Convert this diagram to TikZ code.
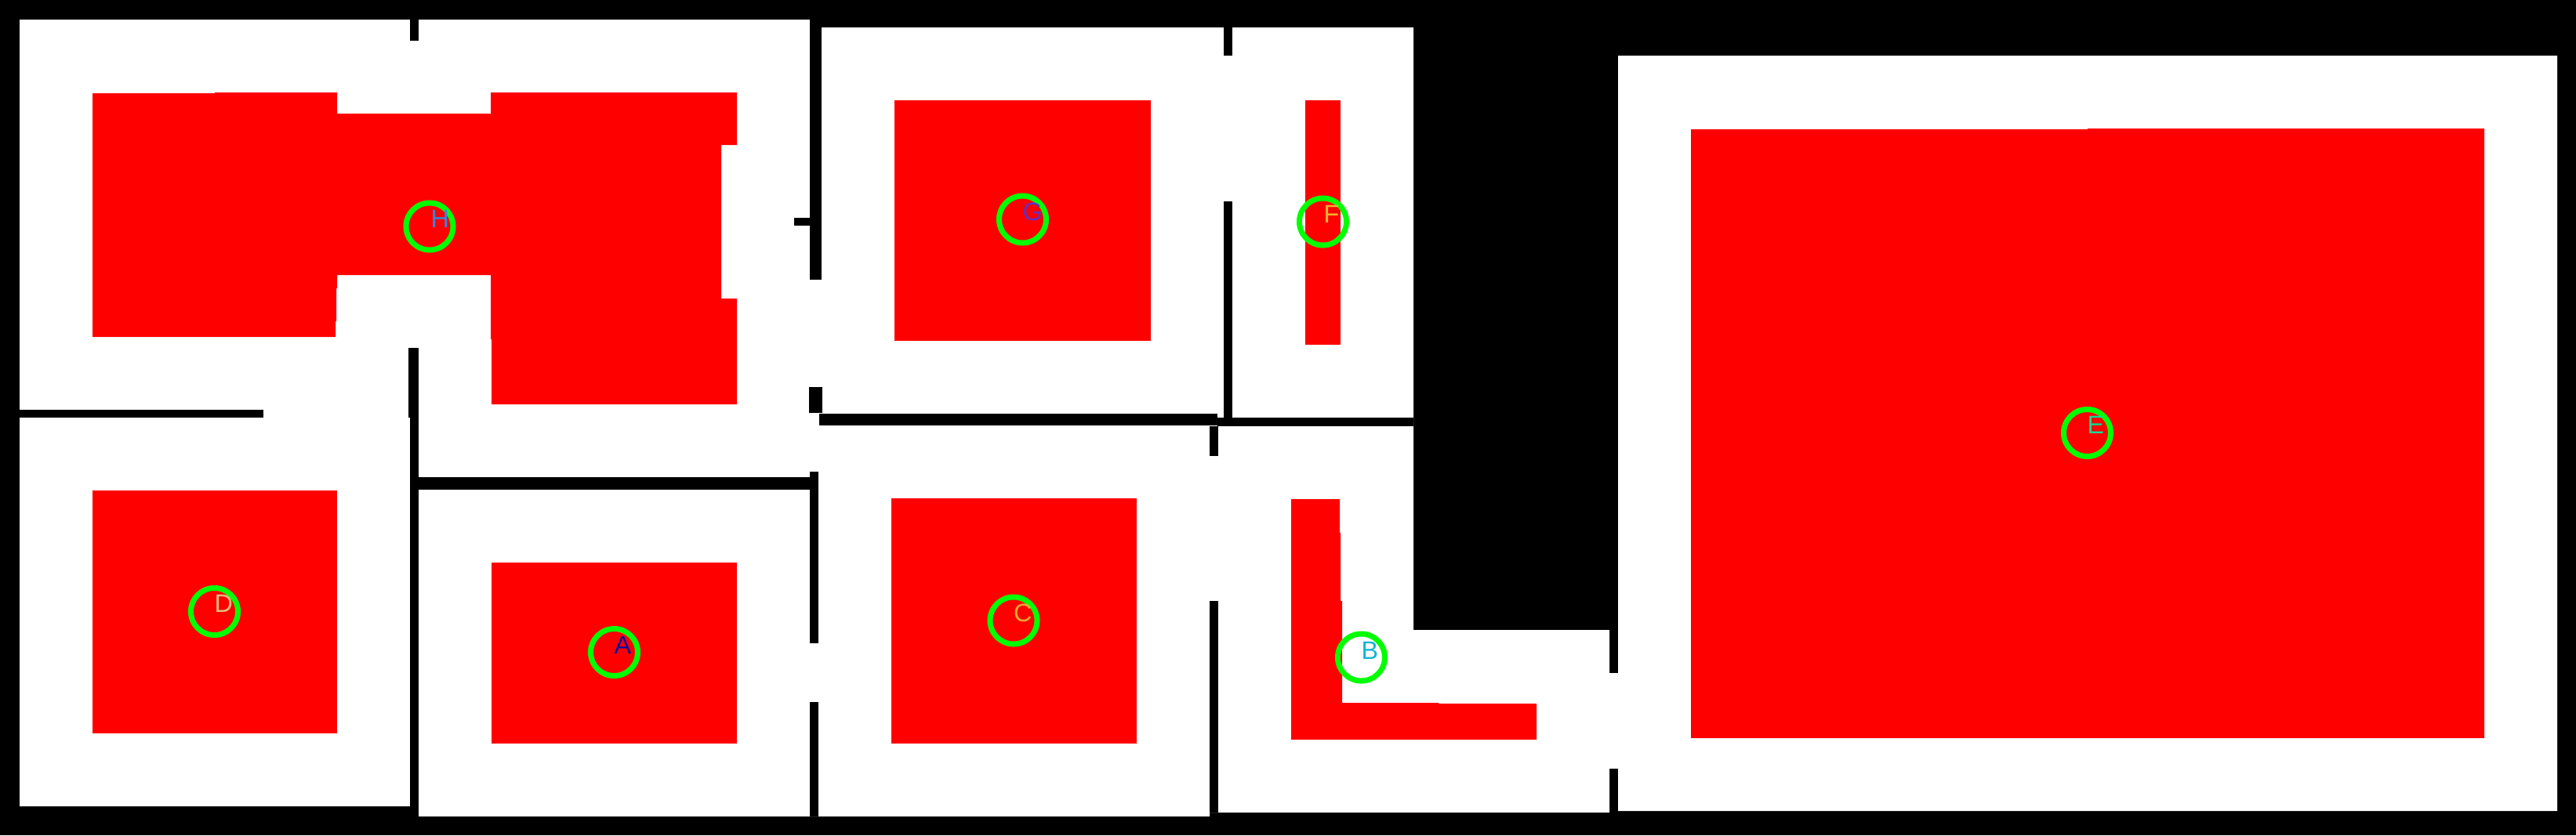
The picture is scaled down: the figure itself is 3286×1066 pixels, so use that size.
\documentclass[tikz,border=0pt]{standalone}
\usepackage{fontspec}
\setmainfont{Liberation Sans}
\usetikzlibrary{calc}

\begin{document}
\begin{tikzpicture}[
  x=0.01cm, y=-0.01cm,
  floor plan/.style={
    fill=white
  },
  wall/.style={
    fill=black
  },
  zone/.style={
    fill=red
  },
  ring/.style={
    circle,
    draw=ringgreen,
    line width=0.07cm,
    minimum size=0.6cm,
    inner sep=0pt,
    outer sep=0pt
  },
  room label/.style={
    anchor=base west,
    inner sep=0pt,
    outer sep=0pt,
    font=\fontsize{9.2pt}{10pt}\selectfont
  }
  ]
\definecolor{ringgreen}{RGB}{0,255,0}
% Background
\fill[black] (0,0) rectangle (3286,1066);
\useasboundingbox (0,0) rectangle (3286,1066);
% Floor
\fill[floor plan] (25,25) -- (1033,25) -- (1033,35) -- (1803,35) -- (1803,804) -- (2053,804)
  -- (2053,859) -- (2064,859) -- (2064,71) -- (3262,71) -- (3262,1035) -- (2064,1035)
  -- (2064,981) -- (2053,981) -- (2053,1037) -- (1543,1037) -- (1543,1042) -- (534,1042)
  -- (534,1029) -- (25,1029) -- cycle;
% Walls, west part
\fill[wall] (523,25) rectangle (534,52);
\fill[wall] (25,523) rectangle (336,533);
\fill[wall] (521,444) rectangle (534,533);
\fill[wall] (523,533) rectangle (534,1042);
\fill[wall] (534,609) rectangle (1033,625);
% Walls, middle
\fill[wall] (1033,25) rectangle (1048,357);
\fill[wall] (1013,278) rectangle (1033,288);
\fill[wall] (1032,494) rectangle (1049,527);
\fill[wall] (1033,602) rectangle (1044,821);
\fill[wall] (1033,896) rectangle (1044,1042);
\fill[wall] (1045,528) rectangle (1553,543);
% Walls, east part
\fill[wall] (1553,533) rectangle (1803,544);
\fill[wall] (1561,35) rectangle (1572,71);
\fill[wall] (1561,257) rectangle (1572,533);
\fill[wall] (1543,544) rectangle (1554,582);
\fill[wall] (1543,767) rectangle (1554,1037);
% Zones
\fill[zone] (118,119) -- (274,119) -- (274,118) -- (430,118) -- (430,145) -- (626,145) -- (626,118)
  -- (940,118) -- (940,185) -- (920,185) -- (920,381) -- (940,381) -- (940,516) -- (627,516)
  -- (627,433) -- (626,433) -- (626,351) -- (430,351) -- (430,368) -- (429,368) -- (429,410)
  -- (428,410) -- (428,430) -- (118,430) -- cycle;
\fill[zone] (118,626) rectangle (430,936);
\fill[zone] (627,718) rectangle (940,949);
\fill[zone] (1137,636) rectangle (1450,949);
\fill[zone] (1141,128) rectangle (1468,435);
\fill[zone] (1665,128) rectangle (1710,440);
\fill[zone] (1647,637) -- (1709,637) -- (1709,680) -- (1710,680) -- (1710,767) -- (1712,767)
  -- (1712,897) -- (1835,897) -- (1835,898) -- (1960,898) -- (1960,944) -- (1647,944) -- cycle;
\fill[zone] (2157,165) -- (2663,165) -- (2663,164) -- (3169,164) -- (3169,942) -- (2157,942) -- cycle;
% Rings
\node[ring] (ring a) at (783.5,832.5) {};
\node[ring] (ring b) at (1736.5,839) {};
\node[ring] (ring c) at (1293,792) {};
\node[ring] (ring d) at (273.5,780.5) {};
\node[ring] (ring e) at (2662.5,552.5) {};
\node[ring] (ring f) at (1687.5,283) {};
\node[ring] (ring g) at (1304.5,280) {};
\node[ring] (ring h) at (548,289) {};
% Labels
\node[room label, text={rgb,255:red,10;green,10;blue,160}] (label a) at ($(ring a)+(0,1.5)$) {A};
\node[room label, text={rgb,255:red,20;green,180;blue,210}] (label b) at ($(ring b)+(0,2)$) {B};
\node[room label, text={rgb,255:red,230;green,170;blue,50}] (label c) at ($(ring c)+(0,1)$) {C};
\node[room label, text={rgb,255:red,225;green,190;blue,130}] (label d) at ($(ring d)+(0,1)$) {D};
\node[room label, text={rgb,255:red,0;green,220;blue,150}] (label e) at ($(ring e)+(0,0.5)$) {E};
\node[room label, text={rgb,255:red,240;green,180;blue,50}] (label f) at ($(ring f)+(1,1)$) {F};
\node[room label, text={rgb,255:red,90;green,50;blue,200}] (label g) at ($(ring g)+(0,1.5)$) {G};
\node[room label, text={rgb,255:red,60;green,130;blue,220}] (label h) at ($(ring h)+(1.5,1)$) {H};
\end{tikzpicture}
\end{document}
